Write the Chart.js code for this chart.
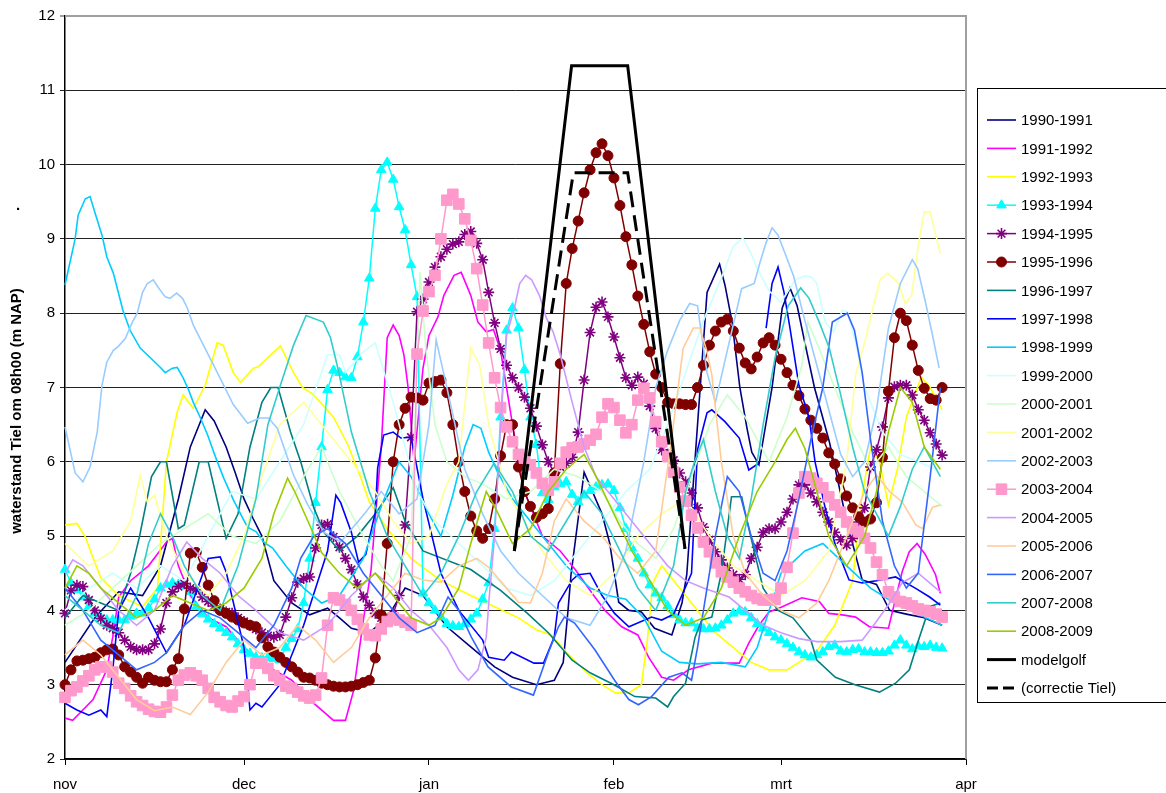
<!DOCTYPE html>
<html>
<head>
<meta charset="utf-8">
<script src="https://cdn.jsdelivr.net/npm/chart.js@4.4.1/dist/chart.umd.min.js"></script>
<style>
  body { margin: 0; background: #fff; }
  #wrap { width: 1166px; height: 793px; }
</style>
</head>
<body>
<div id="wrap"><canvas id="chart" width="1166" height="793"></canvas></div>
<script>
// x = days since 1 november
const monthDays = [0, 30, 61, 92, 120, 151];
const monthLabels = ['nov', 'dec', 'jan', 'feb', 'mrt', 'apr'];
const yTitle = 'waterstand Tiel om 08h00 (m NAP)';

// thin series: read at turning points (day, level)
const days9091 = [0,5,9,13,16,19,21,23.5,25,27,28.5,30,31.5,33,35,38,41,44,46,48,51,54,57,60,64,68,72,75,79,82,83.5,84.3,84.8,87,90,91.3,92.8,94.5,96.6,98.8,101.7,103.4,104.2,107.6,109.7,110.6,111.8,113.1,114.3,115.1,116.3,118.5,120.2,121.5,122.7,124,125.6,126.8,128.1,131,133.6,136,138.2,141,144,147];
const lvl9091 = [3.3,3.9,4.25,4.2,4.6,5.5,6.2,6.7,6.55,6.2,5.86,5.5,5.24,5.0,4.4,4.1,3.94,4.03,3.9,3.76,3.7,3.9,4.3,4.2,3.78,3.51,3.24,3.1,3.0,3.06,3.3,4.0,4.48,5.86,5.3,4.9,4.11,4.0,3.98,3.76,3.67,4.1,4.48,8.28,8.66,8.38,7.88,7.0,6.45,6.13,5.96,7.0,8.07,8.34,8.1,7.6,7.0,6.65,6.27,5.2,4.41,4.35,4.0,3.95,3.9,3.8];

const days9192 = [0,1.3,2.5,4.7,7,8,9,11,14,17,18,19,21,24,27,30,35,38,41,45,47,48.4,50,51.3,53,54,55,56,56.8,57.5,58.5,60,61,62.5,63.5,65.2,66.4,68,69.2,70.6,71.8,73,75,77,80,83,85.5,88.8,90.5,93.3,96,97.8,100,102,104.5,108.4,113,114.6,116.3,118,120.2,123.5,126.4,128,130.3,132.5,134.8,138,140.3,141.5,142.8,144.2,145.9,146.7];
const lvl9192 = [2.55,2.52,2.62,2.8,3.2,3.64,4.18,4.4,4.6,4.92,4.97,4.6,4.2,3.9,3.78,3.5,3.2,3.06,2.8,2.52,2.52,2.93,3.87,4.55,6.2,7.67,7.84,7.7,7.44,7.0,6.0,7.26,7.7,7.95,8.24,8.51,8.55,8.24,7.88,7.75,7.78,7.5,6.5,5.6,5.0,4.8,4.55,4.18,4.0,3.78,3.67,3.37,3.1,3.06,3.2,3.29,3.29,3.56,3.8,3.98,4.05,4.17,4.12,3.96,3.94,3.91,3.78,3.76,4.52,4.79,4.9,4.75,4.48,4.23];

const days9293 = [0,2,3.4,4.5,6,9,13,15.5,17,18.8,19.8,21.5,23.5,25.5,26.5,28.2,29.4,31.6,32.4,34.5,36.1,38.3,39.8,41.7,45,47.4,49.6,51,54,58,63,68,72,76,79,81.5,84,87.5,90,92.2,94.5,96.6,97.6,98.5,100,103,106,109,112,115,118,121,123,126,129,132,133.5,135,136.5,138,139.5,141,143.5,145,147];
const lvl9293 = [5.15,5.17,4.99,4.75,4.44,4.2,4.05,4.3,6.0,6.67,6.9,6.72,7.03,7.6,7.57,7.2,7.07,7.26,7.28,7.44,7.56,7.2,7.0,6.9,6.6,6.23,5.78,5.46,5.1,4.7,4.4,4.2,4.05,3.9,3.74,3.67,3.44,3.16,3.0,2.89,2.89,3.0,3.6,4.37,4.6,4.3,4.0,3.7,3.5,3.3,3.2,3.2,3.3,3.45,3.8,4.4,5.5,6.2,6.0,5.42,5.9,6.6,7.14,7.0,6.7];

const days9697 = [0,3,6,9,11,12.5,14.5,16,17,19,20,22.5,24,27,29,31,33,34.5,35.7,37.8,39.5,41.7,43.4,46,49,52,55,57,60,68,73,77.5,81,85,88,92,95.5,99,101,102,104,105.6,106.7,108.4,110,111.7,113.4,114.6,117,119.5,122,125,126,129.1,132.4,136.5,139.2,141.5,143.2,144.9,146.7];
const lvl9697 = [3.9,4.2,4.1,4.0,4.5,5.0,5.8,6.0,6.0,5.1,5.15,6.0,6.0,4.97,5.3,6.2,6.8,7.0,7.0,6.4,6.0,5.38,5.05,4.8,5.0,5.3,5.65,5.2,4.8,4.55,4.27,3.96,3.7,3.33,3.16,3.0,2.84,2.82,2.7,2.84,3.02,3.64,3.87,3.91,4.5,5.53,5.53,5.1,4.3,4.0,3.9,3.6,3.33,3.1,3.0,2.9,3.02,3.2,3.64,4.05,4.1];

const days9798 = [0,2,4,6,7,8,9,11,14,17,20,24,26,27,30,31,32,33,36,40,44,45.4,46.2,48,49.2,50.4,52,52.4,53.4,55,56.3,58,60,63,66,70,71,73.6,74.8,78.6,80.2,82,82.7,85,86,88,90,92.1,94.5,98.3,100,102,105,106,107.6,108.4,110.6,113,114.6,116.3,117,117.5,118.5,119.5,120.5,121.5,123,124.7,125.7,127.4,129.1,131.4,133.6,136,139.2,142.5,144.9,146.7];
const lvl9798 = [2.75,2.66,2.59,2.66,2.57,3.2,4.0,4.3,3.9,3.43,3.8,4.7,4.72,4.52,3.5,2.66,2.75,2.7,3.0,3.8,4.8,5.55,5.45,5.05,4.65,4.75,5.32,5.92,6.36,6.4,6.32,6.33,5.5,4.5,4.0,3.6,3.37,3.33,3.44,3.29,3.29,3.64,4.1,4.41,4.48,4.5,4.2,3.96,3.78,3.91,3.87,3.95,4.5,6.16,6.66,6.7,6.54,6.32,5.89,5.98,null,7.8,8.4,8.62,8.28,7.8,7.03,6.6,6.0,5.38,4.88,4.41,4.37,4.4,4.45,4.3,4.18,4.07];

const days9899 = [0,1.7,2.2,3.4,4.2,5,6.2,7,8.1,9.7,10.9,12.6,14.3,16,16.8,18,18.8,19.8,20.7,21.5,22.7,23.9,25.2,26.6,28.2,29.8,30.6,32,33.3,34.8,37,40,43,46,50,53,56,58,61,63,65,67,68.4,69.7,71,72.5,75,78,81,84,88,91,94,97,100,103,106,110,114,116,118,120,124,127,131,135,139,143,147];
const lvl9899 = [8.38,9.0,9.32,9.54,9.57,9.36,9.05,8.76,8.54,8.04,7.77,7.53,7.4,7.27,7.2,7.26,7.27,7.13,6.97,6.8,6.59,6.36,6.07,5.78,5.49,5.24,5.12,5.06,4.92,4.84,4.6,4.3,4.1,4.2,4.7,5.4,6.0,5.8,5.3,5.0,5.55,6.2,6.5,6.45,6.13,5.86,5.5,5.2,4.9,4.6,4.3,4.2,4.15,3.9,3.45,3.3,3.28,3.3,3.24,3.5,4.0,4.5,4.8,4.9,4.6,4.3,4.1,3.95,3.8];

const days9900 = [0,4,8,12,16,20,24,28,32,36,40,44,46,47,50,52,55,57,59,62,66,70,74,78,82,86,90,94,98,101,104,107,110,112,113.6,115,116,118,120,122.4,124,125,126,127.4,128.8,130.3,131.1,132.5,134,137,140,143,146];
const lvl9900 = [4.0,4.3,4.5,4.3,4.6,4.4,5.0,5.6,5.5,6.0,6.5,7.44,7.44,7.2,7.48,7.6,6.8,6.2,5.6,5.2,4.9,4.6,4.3,4.2,4.4,4.8,5.2,5.6,5.9,6.5,7.2,7.9,8.47,8.9,9.01,8.8,8.6,8.3,8.15,8.45,8.5,8.49,8.4,7.88,7.75,8.04,8.02,7.6,7.0,6.4,6.1,6.0,5.9];

const days0001 = [0,4,8,12,16,20,24,28,32,36,40,43,46,50,53,55,58,59.5,60.5,62,64,67,70,74,78,82,86,90,93,96,99,102,105,108,111,114,118,121,123.5,124.5,126,129,132,135,138,141,144,147];
const lvl0001 = [3.8,4.0,4.3,4.6,4.9,5.1,5.3,5.0,4.9,5.2,5.8,6.2,5.6,5.0,4.6,4.4,5.0,8.55,7.5,6.5,6.0,5.8,5.7,5.5,5.6,5.9,5.8,5.6,5.2,4.9,4.7,5.1,5.8,6.5,6.9,6.6,6.0,6.6,7.3,7.88,7.6,7.0,6.4,5.9,6.2,5.8,5.6,5.4];

const days0102 = [0,4,8,11,12.6,13.8,15,17,20,24,27,30,33,36,40,44,48,52,55,58,61,64,66,68,69.5,71,74,77,80,84,88,92,96,100,104,108,112,116,120,124,128,131,132.5,134,135.4,136.6,137.9,139.7,140.8,141.9,143,144,145,146.7];
const lvl0102 = [4.9,4.6,4.8,5.2,5.82,5.46,5.55,5.0,4.5,4.2,4.5,5.0,5.8,6.5,6.8,6.4,6.0,5.6,5.2,4.9,5.0,5.7,6.0,7.53,7.3,6.5,5.6,5.2,4.8,4.4,4.2,4.5,5.0,5.3,5.5,5.0,4.6,4.4,4.2,4.4,4.8,6.0,7.17,7.6,8.07,8.45,8.54,8.4,8.13,8.24,8.92,9.36,9.36,8.8];

const days0203 = [0,1.7,3,4.2,5.4,6.2,7,8.1,8.9,10.1,11.3,12.1,13,13.8,14.8,15.6,16.8,17.6,18.7,19.7,20.5,21.5,23.2,24.9,26.6,28.2,30.6,32.7,34.1,35.6,38.3,40.7,43.4,46.2,50.4,53,56,59,61,62.2,64,67,70,73,76,80,84,88,91,94,97,99,101,103,104.7,106,107.6,109,111,113.4,115.5,116.5,117.5,118.5,119.5,120.6,122.1,124,126,128,130,132,134,136,138,140,142,142.9,144.2,145.4,146.5];
const lvl0203 = [6.47,5.85,5.73,5.93,6.4,7.03,7.34,7.5,7.55,7.66,7.88,8.0,8.28,8.4,8.45,8.35,8.22,8.2,8.27,8.2,8.07,7.84,7.57,7.3,7.03,6.77,6.52,6.59,6.59,6.45,5.82,5.42,5.05,4.92,5.32,5.6,5.3,5.5,6.5,7.64,7.0,5.9,5.3,4.8,4.5,4.2,3.9,3.8,4.2,4.8,6.0,7.0,7.5,7.9,8.13,8.1,7.2,6.8,7.5,8.33,8.4,8.69,8.95,9.15,9.05,8.82,8.5,7.9,7.3,6.7,6.1,5.8,6.0,6.7,7.8,8.4,8.72,8.6,8.15,7.7,7.26];

const days0405 = [0,1.3,3,6,9,12,15,18,20.4,23,26,29,32,36,40,44,48,52,55,58,61,64,66,67.6,69.2,70.6,71.1,72,73,74,75.4,76.2,77.2,78.2,79.5,80.7,81.8,83,85,87,89,92,95,98,101,104,107,111.3,114,117,120,123,126,130,133.6,135.8,138.2,140.3,143,146.7];
const lvl0405 = [4.5,4.68,4.6,4.3,4.0,3.8,4.0,4.6,4.92,4.7,4.5,4.2,4.0,3.7,3.6,3.8,4.2,4.5,4.3,4.0,3.8,3.5,3.2,3.06,3.2,3.64,4.18,5.0,6.5,7.7,8.1,8.4,8.51,8.45,8.24,7.93,7.75,7.44,6.8,6.2,5.8,5.5,5.2,4.9,4.6,4.4,4.3,4.18,4.0,3.8,3.7,3.62,3.58,3.58,3.6,3.83,4.1,4.37,4.5,4.25];

const days0506 = [0,3,6,9,12,15,18,21,24,27,30,33,36,39,42,45,48,51,54,57,60,63,66,69,71,74,76,78,80,82,84,87,90,93,96,99,101.5,103.6,105.3,106.4,107.6,108.4,110,112,114,117,120,123,126,128,130,132,134,136,138.2,140.3,142.6,143.7,145.4,146.7];
const lvl0506 = [3.4,3.6,3.4,3.1,2.8,2.65,2.7,2.6,2.9,3.3,3.6,3.4,3.5,3.8,3.6,3.3,3.5,3.9,4.2,4.5,4.41,4.38,4.6,4.7,4.58,4.3,4.11,4.1,4.5,5.2,5.5,5.2,5.0,4.7,4.5,4.8,6.2,7.53,7.8,7.8,7.48,7.17,6.0,5.0,4.5,4.2,4.0,3.9,4.1,4.4,4.8,5.2,5.6,5.82,5.6,5.46,5.15,5.1,5.39,5.42];

const days0607 = [0,3,6,9,12,15,17,20,23,26,29,32,35,38,39.5,41.7,44,47,50,53,56,59,62,64.2,66,68.1,70.9,74.8,78.5,81,82.7,83.7,85.4,88.8,92.1,94.5,96.1,98.3,101.2,103.4,105,106,107.2,109,111,113,115,117,119,121,123,125,127,128.6,131.1,132.3,133.6,135,137,139,141,143,145,146.7];
const lvl0607 = [4.3,4.0,3.6,3.4,3.2,3.3,3.43,3.8,4.0,3.9,3.7,3.5,3.8,4.3,4.7,5.0,5.1,4.9,4.5,4.2,3.9,3.7,3.8,4.18,4.0,3.64,3.24,2.97,2.86,3.43,3.78,3.91,3.83,3.47,3.06,2.8,2.73,2.84,3.1,3.16,3.06,3.5,4.1,5.0,5.8,5.6,5.0,4.5,4.4,4.8,5.5,6.3,7.0,7.88,8.0,7.77,7.2,6.3,5.2,4.6,4.3,4.5,5.8,7.0];

const days0708 = [0,3,6,9,12,14,16,18,20,23,26,29,32,34,36.1,38.3,40.4,43.3,44.5,45.7,48,51,54,57,60,63,66,69,71.9,75,78,81,84,87,90,93,96,99,102,104,105.5,107,109,111,113,115,117,119,121.2,123.3,124.7,126.4,128.1,130,132,134,136,138,140,142,144,146.7];
const lvl0708 = [4.2,4.0,3.8,3.7,4.2,4.9,5.3,5.0,4.6,4.2,4.0,4.6,5.5,6.5,7.03,7.57,7.97,7.88,7.67,7.27,6.4,5.6,5.0,4.6,4.2,4.5,5.0,5.6,5.98,5.6,5.0,4.8,5.2,5.6,5.3,4.8,4.3,4.0,4.6,5.6,6.0,6.3,5.6,5.0,4.7,5.5,6.5,7.4,8.1,8.34,8.2,7.88,7.53,6.9,6.2,5.6,5.3,5.0,5.4,5.9,6.2,5.8];

const days0809 = [0,2,4,6,9,12,15,18,21,24,27,30,33,35,37.3,38.5,41,43,46,49,52,55,58,61,63,66,68,70.6,72,75,78,81,84,87,89,92,95,98,101,104,107,110,113,116,119,121,122.4,124,126,128,131,134,136,138,140,142,144,146.7];
const lvl0809 = [4.3,4.6,4.5,4.3,4.1,3.9,4.0,4.2,4.1,4.0,4.1,4.3,4.7,5.3,5.78,5.6,5.15,4.78,4.5,4.3,4.5,4.2,3.9,3.8,3.9,4.3,4.9,5.6,5.4,4.9,5.1,5.6,5.9,6.1,5.8,5.3,4.8,4.4,4.0,3.8,3.9,4.3,5.0,5.6,6.0,6.3,6.45,6.18,5.6,5.0,4.6,5.0,5.6,6.4,7.0,6.8,6.2,5.9];

// marker series: one value per day from 1 november
const lvl9394 = [4.55,4.37,4.28,4.18,4.05,3.96,3.9,3.87,3.87,3.87,3.87,3.92,3.96,3.96,4.03,4.15,4.3,4.35,4.37,4.35,4.33,4.25,4.05,3.95,3.88,3.82,3.76,3.7,3.64,3.55,3.47,3.42,3.37,3.36,3.36,3.35,3.33,3.5,3.62,3.75,4.1,4.7,5.45,6.2,6.97,7.23,7.2,7.14,7.13,7.41,7.88,8.47,9.41,9.93,10.03,9.8,9.43,9.12,8.65,8.22,4.23,4.1,4.0,3.91,3.82,3.79,3.78,3.82,3.88,3.96,4.15,4.37,5.1,6.6,7.77,8.07,7.8,7.24,6.6,6.23,5.58,5.49,5.66,5.7,5.73,5.56,5.46,5.55,5.61,5.66,5.69,5.7,5.61,5.38,5.1,4.84,4.7,4.5,4.34,4.23,4.17,4.06,3.94,3.87,3.83,3.83,3.76,3.75,3.75,3.76,3.8,3.87,3.96,3.99,3.98,3.9,3.82,3.76,3.7,3.64,3.6,3.55,3.5,3.44,3.4,3.37,3.4,3.44,3.51,3.53,3.45,3.44,3.47,3.48,3.44,3.44,3.43,3.43,3.45,3.53,3.6,3.53,3.48,3.52,3.51,3.53,3.5,3.49];
const lvl9495 = [3.96,4.27,4.34,4.32,4.14,4.0,3.89,3.8,3.76,3.7,3.6,3.51,3.47,3.47,3.47,3.55,3.75,4.1,4.25,4.32,4.36,4.3,4.28,4.18,4.12,4.06,4.02,3.98,3.96,3.9,3.85,3.8,3.75,3.7,3.66,3.64,3.67,3.91,4.17,4.38,4.43,4.45,4.84,5.15,5.16,4.99,4.85,4.7,4.55,4.35,4.18,4.07,3.96,3.9,3.88,3.95,4.2,5.15,6.33,8.02,8.19,8.42,8.62,8.76,8.86,8.93,8.96,9.06,9.1,8.94,8.72,8.28,7.87,7.52,7.3,7.13,7.0,6.87,6.72,6.48,6.23,6.0,5.85,5.93,5.98,6.06,6.4,7.1,7.74,8.08,8.15,7.95,7.68,7.4,7.13,7.03,7.14,7.05,6.75,6.45,6.16,6.1,6.02,5.85,5.73,5.58,5.38,5.12,4.95,4.79,4.68,4.57,4.48,4.42,4.48,4.7,4.85,5.05,5.1,5.1,5.19,5.32,5.5,5.69,5.69,5.58,5.46,5.32,5.19,5.05,4.95,4.88,4.97,5.19,5.38,5.93,6.16,6.47,6.86,7.01,7.03,7.03,6.9,6.7,6.56,6.39,6.24,6.09];
const lvl9596 = [3.0,3.2,3.32,3.33,3.35,3.37,3.43,3.47,3.48,3.4,3.24,3.17,3.1,3.02,3.1,3.06,3.04,3.04,3.2,3.35,4.02,4.77,4.78,4.58,4.34,4.13,4.0,3.96,3.91,3.87,3.83,3.8,3.78,3.63,3.51,3.44,3.37,3.3,3.24,3.17,3.1,3.09,3.06,3.02,3.0,2.98,2.97,2.97,2.98,3.0,3.03,3.06,3.36,3.94,4.9,6.0,6.5,6.72,6.87,6.86,6.83,7.06,7.08,7.1,6.93,6.5,6.0,5.6,5.27,5.07,4.97,5.1,5.5,6.08,6.5,6.5,5.93,5.6,5.4,5.25,5.3,5.37,5.85,7.32,8.4,8.87,9.24,9.62,9.93,10.16,10.28,10.12,9.82,9.45,9.03,8.65,8.23,7.85,7.48,7.18,7.0,6.8,6.78,6.78,6.77,6.77,7.0,7.3,7.57,7.76,7.88,7.92,7.76,7.53,7.33,7.25,7.41,7.6,7.67,7.57,7.38,7.2,7.03,6.89,6.71,6.56,6.45,6.32,6.12,5.97,5.77,5.54,5.38,5.26,5.19,5.23,5.45,6.06,6.95,7.67,8.0,7.9,7.57,7.23,6.99,6.85,6.83,7.0];
const lvl0304 = [2.83,2.92,2.97,3.05,3.12,3.2,3.24,3.24,3.17,3.02,2.95,2.85,2.77,2.72,2.67,2.64,2.63,2.7,2.86,3.06,3.13,3.16,3.12,3.06,2.95,2.83,2.77,2.72,2.7,2.78,2.84,3.0,3.29,3.29,3.22,3.12,3.06,2.98,2.95,2.9,2.85,2.82,2.86,3.09,3.8,4.17,4.14,4.08,4.0,3.88,3.75,3.67,3.66,3.75,3.85,3.9,3.87,3.84,3.8,7.45,8.03,8.29,8.51,9.0,9.52,9.6,9.47,9.27,8.98,8.6,8.11,7.6,7.13,6.73,6.47,6.27,6.1,6.05,5.96,5.85,5.71,5.62,5.73,5.98,6.13,6.19,6.2,6.24,6.29,6.37,6.6,6.78,6.73,6.56,6.39,6.5,6.83,6.99,6.86,6.54,6.27,6.07,5.86,5.66,5.47,5.28,5.11,4.92,4.79,4.64,4.52,4.45,4.38,4.3,4.25,4.2,4.16,4.14,4.14,4.15,4.3,4.58,5.04,5.58,5.8,5.78,5.71,5.65,5.53,5.42,5.32,5.19,5.1,5.06,4.97,4.84,4.65,4.48,4.25,4.18,4.12,4.1,4.06,4.02,4.0,3.98,3.95,3.91];

// model wave and corrected wave
const daysModel = [75.3, 84.9, 94.3, 103.9];
const lvlModel = [4.8, 11.33, 11.33, 4.83];
const daysCorr = [75.3, 85.2, 94.3, 103.9];
const lvlCorr = [4.8, 9.89, 9.89, 4.83];

function pairs(days, vals) {
  let out = [];
  for (let i = 0; i < Math.min(days.length, vals.length); i++) {
    out.push({ x: days[i], y: vals[i] });
  }
  return out;
}
function daily(vals) {
  return vals.map((v, i) => ({ x: i, y: v }));
}

function thin(label, color, data) {
  return { label: label, data: data, borderColor: color, backgroundColor: color,
    borderWidth: 1.6, pointRadius: 0, tension: 0 };
}
function marked(label, color, data, style, radius) {
  return { label: label, data: data, borderColor: color, backgroundColor: color,
    borderWidth: 1.5, pointStyle: style, pointRadius: radius,
    pointBackgroundColor: color, pointBorderColor: color,
    pointBorderWidth: style === 'star' ? 1.6 : 1, tension: 0 };
}

let datasets = [
  thin('1990-1991', '#000080', pairs(days9091, lvl9091)),
  thin('1991-1992', '#FF00FF', pairs(days9192, lvl9192)),
  thin('1992-1993', '#FFFF00', pairs(days9293, lvl9293)),
  marked('1993-1994', '#00FFFF', daily(lvl9394), 'triangle', 5.5),
  marked('1994-1995', '#800080', daily(lvl9495), 'star', 5.5),
  marked('1995-1996', '#800000', daily(lvl9596), 'circle', 5),
  thin('1996-1997', '#008080', pairs(days9697, lvl9697)),
  thin('1997-1998', '#0000FF', pairs(days9798, lvl9798)),
  thin('1998-1999', '#00CCFF', pairs(days9899, lvl9899)),
  thin('1999-2000', '#CCFFFF', pairs(days9900, lvl9900)),
  thin('2000-2001', '#CCFFCC', pairs(days0001, lvl0001)),
  thin('2001-2002', '#FFFF99', pairs(days0102, lvl0102)),
  thin('2002-2003', '#99CCFF', pairs(days0203, lvl0203)),
  marked('2003-2004', '#FF99CC', daily(lvl0304), 'rect', 7.5),
  thin('2004-2005', '#CC99FF', pairs(days0405, lvl0405)),
  thin('2005-2006', '#FFCC99', pairs(days0506, lvl0506)),
  thin('2006-2007', '#3366FF', pairs(days0607, lvl0607)),
  thin('2007-2008', '#33CCCC', pairs(days0708, lvl0708)),
  thin('2008-2009', '#99CC00', pairs(days0809, lvl0809)),
  { label: 'modelgolf', data: pairs(daysModel, lvlModel), borderColor: '#000',
    borderWidth: 3, pointRadius: 0, tension: 0 },
  { label: '(correctie Tiel)', data: pairs(daysCorr, lvlCorr), borderColor: '#000',
    borderWidth: 3, borderDash: [16, 8], pointRadius: 0, tension: 0 }
];
// later seasons are drawn on top, as in the original
datasets.forEach((ds, i) => { ds.order = -i; ds.clip = false; ds.spanGaps = false; });

const FONT = '"Liberation Sans", Arial, sans-serif';

const decorPlugin = {
  id: 'decor',
  beforeDatasetsDraw(chart) {
    let ctx = chart.ctx;
    let a = chart.chartArea;
    ctx.save();
    ctx.strokeStyle = '#a0a0a0';
    ctx.lineWidth = 2;
    ctx.beginPath();
    ctx.moveTo(a.left, a.top);
    ctx.lineTo(a.right, a.top);
    ctx.lineTo(a.right, a.bottom);
    ctx.stroke();
    ctx.restore();
  },
  afterDraw(chart) {
    let ctx = chart.ctx;
    ctx.save();
    // y axis title
    ctx.fillStyle = '#000';
    ctx.font = 'bold 15px ' + FONT;
    ctx.textAlign = 'center';
    ctx.textBaseline = 'middle';
    ctx.save();
    ctx.translate(17, 411);
    ctx.rotate(-Math.PI / 2);
    ctx.fillText(yTitle, 0, 0);
    ctx.restore();
    ctx.fillText('.', 18, 206);

    // legend box
    ctx.strokeStyle = '#000';
    ctx.lineWidth = 1;
    ctx.fillStyle = '#fff';
    ctx.fillRect(977, 88, 200, 614);
    ctx.strokeRect(977.5, 88.5, 200, 614);
    ctx.font = '15px ' + FONT;
    ctx.textAlign = 'left';
    ctx.textBaseline = 'middle';
    chart.data.datasets.forEach((ds, i) => {
      let y = 120 + i * 28.4;
      ctx.save();
      ctx.strokeStyle = ds.borderColor;
      ctx.lineWidth = ds.borderWidth;
      ctx.setLineDash(ds.borderDash ? [11, 5] : []);
      ctx.beginPath();
      ctx.moveTo(987, y);
      ctx.lineTo(1016, y);
      ctx.stroke();
      ctx.setLineDash([]);
      if (ds.pointRadius > 0) {
        ctx.fillStyle = ds.pointBackgroundColor;
        ctx.strokeStyle = ds.pointBorderColor;
        ctx.lineWidth = ds.pointBorderWidth;
        Chart.helpers.drawPoint(ctx, { pointStyle: ds.pointStyle, radius: ds.pointRadius,
          borderWidth: ds.pointBorderWidth, rotation: 0 }, 1001.5, y);
      }
      ctx.restore();
      ctx.fillStyle = '#000';
      ctx.fillText(ds.label, 1021, y + 1);
    });
    ctx.restore();
  }
};

new Chart(document.getElementById('chart'), {
  type: 'line',
  data: { datasets: datasets },
  options: {
    responsive: false,
    animation: false,
    events: [],
    layout: { padding: { left: 0, right: 200, top: 16, bottom: 0 } },
    plugins: { legend: { display: false }, tooltip: { enabled: false } },
    scales: {
      x: {
        type: 'linear', min: 0, max: 151,
        afterBuildTicks: s => { s.ticks = monthDays.map(v => ({ value: v })); },
        afterFit: s => { s.height = 34; },
        ticks: {
          autoSkip: false, maxRotation: 0, padding: 11, color: '#000',
          font: { family: FONT, size: 15 },
          callback: v => monthLabels[monthDays.indexOf(v)]
        },
        grid: { drawOnChartArea: false, tickLength: 6, color: '#000' },
        border: { color: '#000', width: 1.5 }
      },
      y: {
        min: 2, max: 12,
        afterFit: s => { s.width = 65; },
        ticks: { stepSize: 1, padding: 5, color: '#000', font: { family: FONT, size: 15 } },
        grid: {
          tickLength: 5,
          color: c => (c.tick && c.tick.value === 12 ? '#a0a0a0' : '#222'),
          lineWidth: c => (c.tick && c.tick.value === 12 ? 2 : 1)
        },
        border: { color: '#000', width: 1.5 }
      }
    }
  },
  plugins: [decorPlugin]
});
</script>
</body>
</html>
